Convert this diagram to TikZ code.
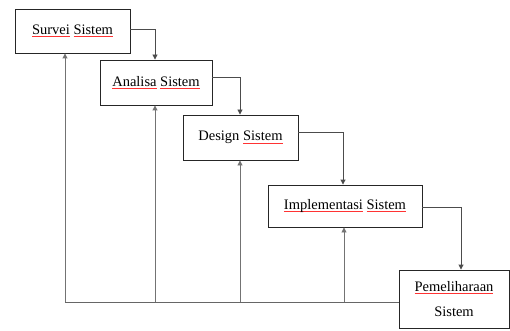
\documentclass[tikz,border=0pt]{standalone}
\usepackage{fontspec}
\setmainfont{Liberation Serif}
\usetikzlibrary{arrows.meta,positioning}
\newsavebox\spellbox
\newcommand\spell[1]{\sbox\spellbox{#1}\rlap{\textcolor{red!80}{\rule[-0.35ex]{\wd\spellbox}{0.5pt}}}\usebox\spellbox}
\tikzset{
  phase/.style={draw=black!85, line width=0.9pt, fill=white, inner sep=0pt,
    font=\fontsize{14.5}{25}\selectfont, align=center},
  flow/.style={draw=black!70, line width=0.9pt, -{Triangle[length=5pt,width=5pt]}},
  back/.style={draw=black!55, line width=0.9pt, -{Triangle[length=5pt,width=5pt]}},
  baseline/.style={draw=black!60, line width=0.9pt}
}
\begin{document}
\begin{tikzpicture}[x=1pt,y=-1pt]
\useasboundingbox (0,0) rectangle (510,331);
\node[phase, minimum width=115, minimum height=44] (b1) at (72.5,31) {\spell{Survei} \spell{Sistem}};
\node[phase, minimum width=112, minimum height=45] (b2) at (156,82.5) {\spell{Analisa} \spell{Sistem}};
\node[phase, minimum width=115, minimum height=45] (b3) at (240.5,137.5) {Design \spell{Sistem}};
\node[phase, minimum width=154, minimum height=42] (b4) at (345,206) {\spell{Implementasi} \spell{Sistem}};
\node[phase, minimum width=110, minimum height=58] (b5) at (454,299) {\spell{Pemeliharaan}\\Sistem};
% forward flow
\draw[flow] ([yshift=2]b1.east) -| ([xshift=-1]b2.north);
\draw[flow] ([yshift=5.5]b2.east) -| ([xshift=-0.5]b3.north);
\draw[flow] ([yshift=5.5]b3.east) -| ([xshift=-2]b4.north);
\draw[flow] ([yshift=-1]b4.east) -| ([xshift=7]b5.north);
% feedback
\coordinate (u1) at (65,302);
\coordinate (u2) at (155,302);
\coordinate (u3) at (240,302);
\coordinate (u4) at (344,302);
\draw[baseline] (u1) -- (u1 -| b5.west);
\draw[back] (u1) -- (u1 |- b1.south);
\draw[back] (u2) -- (u2 |- b2.south);
\draw[back] (u3) -- (u3 |- b3.south);
\draw[back] (u4) -- (u4 |- b4.south);
\end{tikzpicture}
\end{document}
